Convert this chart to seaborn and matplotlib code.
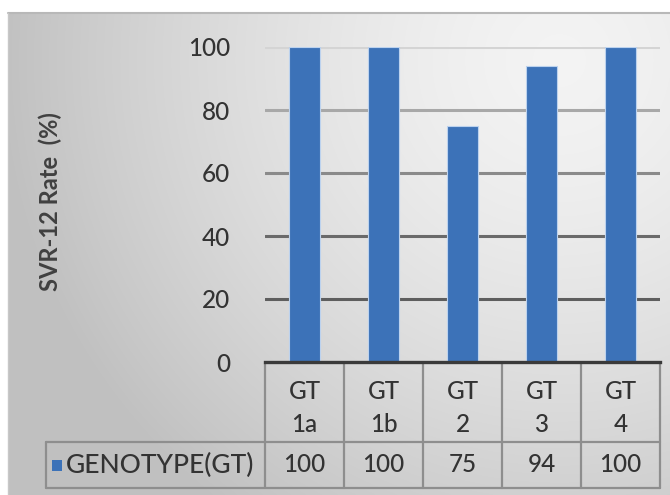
import numpy as np
import pandas as pd
import matplotlib
matplotlib.use("Agg")
import matplotlib.pyplot as plt
import matplotlib.transforms as mtransforms
from matplotlib.patches import Rectangle
import seaborn as sns

# Data
genotypes = ["GT\n1a", "GT\n1b", "GT\n2", "GT\n3", "GT\n4"]
svr12_rates = [100, 100, 75, 94, 100]
series_name = "GENOTYPE(GT)"
y_ticks = [0, 20, 40, 60, 80, 100]
y_label = "SVR-12 Rate  (%)"

df = pd.DataFrame({"genotype": genotypes, "rate": svr12_rates})

sns.set_style("white")
plt.rcParams["font.family"] = ["Lato", "DejaVu Sans"]
plt.rcParams["font.weight"] = "medium"

W, H = 670, 495
fig = plt.figure(figsize=(W / 100, H / 100), dpi=100)
fig.patch.set_facecolor("white")

# Radial grey gradient chart area
bg = fig.add_axes([8 / W, 0, 1 - 8 / W, (H - 13) / H])
bg.set_axis_off()
gx, gy = np.meshgrid(np.linspace(8, W, 400), np.linspace(13, H, 300))
d = np.sqrt((gx - 560) ** 2 + (gy - 60) ** 2) / 560
t = np.clip(d, 0, 1) ** 1.5
shade = 0.955 - 0.20 * t
bg.imshow(np.dstack([shade, shade, shade]), extent=[0, 1, 0, 1], aspect="auto",
          origin="upper", interpolation="bilinear")
bg.set_xlim(0, 1)
bg.set_ylim(0, 1)
bg.plot([0, 1], [1, 1], color="#b8b8b8", lw=1.5, transform=bg.transAxes, clip_on=False)
bg.plot([0, 0], [0, 1], color="#c8c8c8", lw=1.0, transform=bg.transAxes, clip_on=False)

# Plot area
x0, x1 = 265, 660
y_top, y_base = 47, 362
ax = fig.add_axes([x0 / W, 1 - y_base / H, (x1 - x0) / W, (y_base - y_top) / H])
ax.patch.set_alpha(0)

grid_colors = {20: "#5e5e5e", 40: "#6a6a6a", 60: "#8a8a8a", 80: "#a8a8a8", 100: "#d4d4d4"}
for v, c in grid_colors.items():
    ax.axhline(v, color=c, lw=2.2, zorder=1)

sns.barplot(data=df, x="genotype", y="rate", color="#3c72b8", saturation=1,
            width=0.39, edgecolor="#bcd2ee", linewidth=0.8, ax=ax, zorder=3)

ax.set_xlim(-0.5, len(genotypes) - 0.5)
ax.set_ylim(0, 100)
ax.set_yticks(y_ticks)
ax.set_yticklabels([str(v) for v in y_ticks], fontsize=17.5, color="#333333")
ax.tick_params(axis="y", length=0, pad=25)
ax.set_xticks([])
ax.set_xlabel("")
ax.set_ylabel("")
for s in ["top", "right", "left"]:
    ax.spines[s].set_visible(False)
ax.spines["bottom"].set_color("#3a3a3a")
ax.spines["bottom"].set_linewidth(2.4)
ax.spines["bottom"].set_zorder(5)

fig.text(50 / W, 1 - 202 / H, y_label, rotation=90, ha="center", va="center",
         fontsize=17, fontweight="bold", color="#404040")

# Data table under the axis
trans = mtransforms.blended_transform_factory(ax.transData, fig.transFigure)
row1_top = 1 - 364 / H
row_mid = 1 - 442 / H
row2_bot = 1 - 488 / H
line_c = "#8e8e8e"
n = len(genotypes)
lw = 1.6

# horizontal lines
ax.plot([-0.5, n - 0.5], [row_mid, row_mid], color=line_c, lw=lw, transform=trans, clip_on=False)
fig.lines.append(plt.Line2D([46 / W, x0 / W], [row_mid, row_mid], color=line_c, lw=lw,
                            transform=fig.transFigure))
fig.lines.append(plt.Line2D([46 / W, x1 / W], [row2_bot, row2_bot], color=line_c, lw=lw,
                            transform=fig.transFigure))
fig.lines.append(plt.Line2D([46 / W, 46 / W], [row2_bot, row_mid], color=line_c, lw=lw,
                            transform=fig.transFigure))
# vertical lines
for i in range(n + 1):
    ax.plot([i - 0.5, i - 0.5], [row2_bot, row1_top], color=line_c, lw=lw,
            transform=trans, clip_on=False)

for i, (g, v) in enumerate(zip(genotypes, svr12_rates)):
    ax.text(i, 1 - 408 / H, g, transform=trans, ha="center", va="center",
            fontsize=17.5, color="#333333", linespacing=1.55)
    ax.text(i, (row_mid + row2_bot) / 2, str(v), transform=trans, ha="center", va="center",
            fontsize=17.5, color="#333333")

# legend key and series name
fig.patches.append(Rectangle((52 / W, 1 - 471 / H), 10 / W, 11 / H, facecolor="#3c72b8",
                             edgecolor="none", transform=fig.transFigure))
fig.text(66 / W, (row_mid + row2_bot) / 2, series_name, ha="left", va="center",
         fontsize=19, color="#333333")

fig.savefig("out.png", dpi=100)
